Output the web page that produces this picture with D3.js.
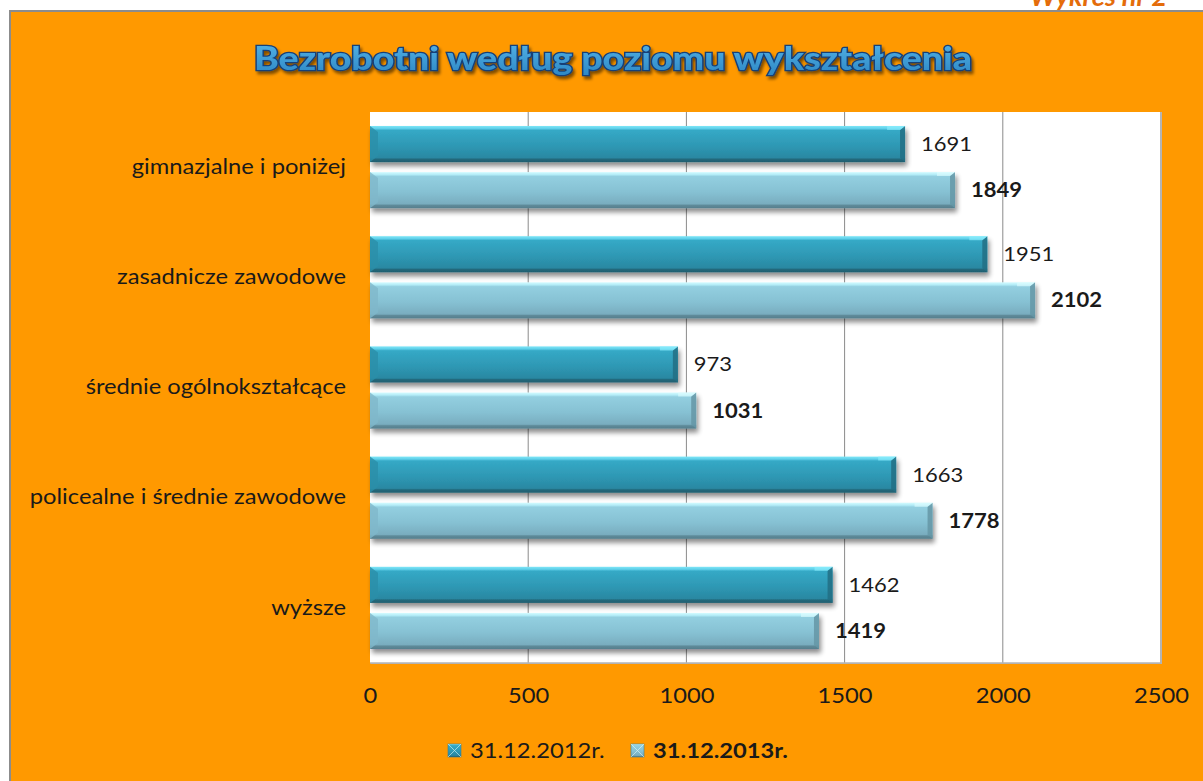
<!DOCTYPE html>
<html>
<head>
<meta charset="utf-8">
<script src="https://cdn.jsdelivr.net/npm/d3@7/dist/d3.min.js"></script>
<style>
  html, body { margin: 0; padding: 0; background: #fff; }
  svg { display: block; }
  text { font-family: Lato, "Open Sans", sans-serif; }
</style>
</head>
<body>
<div id="chart"></div>
<script>
const width = 1203;
const height = 781;

// data
const categories = ["gimnazjalne i poniżej", "zasadnicze zawodowe", "średnie ogólnokształcące", "policealne i średnie zawodowe", "wyższe"];
const series = ["31.12.2012r.", "31.12.2013r."];
const values2012 = [1691, 1951, 973, 1663, 1462];
const values2013 = [1849, 2102, 1031, 1778, 1419];
const xTicks = [0, 500, 1000, 1500, 2000, 2500];

const plot = {left: 370, right: 1161, top: 112, bottom: 663};
const stretch = 1.13; // the original text is drawn a bit wider

const svg = d3.select("#chart")
  .append("svg")
  .attr("width", width)
  .attr("height", height);

const defs = svg.append("defs");

// bar gradients (bevelled look)
function barGradient(id, stops) {
  const g = defs.append("linearGradient")
    .attr("id", id)
    .attr("x1", 0).attr("y1", 0).attr("x2", 0).attr("y2", 1);
  stops.forEach(s => g.append("stop").attr("offset", s[0]).attr("stop-color", s[1]));
}
barGradient("g2012", [[0, "#7ee6f7"], [0.07, "#5fd0ea"], [0.12, "#35a9c6"], [0.55, "#2e98b4"], [0.88, "#2a88a2"], [0.92, "#22687b"], [1, "#1f5f70"]]);
barGradient("g2013", [[0, "#d4fbff"], [0.07, "#b3ecf7"], [0.12, "#93cfe0"], [0.55, "#86c1d3"], [0.88, "#79adbf"], [0.92, "#5e8a99"], [1, "#567f8d"]]);

const shadow = defs.append("filter").attr("id", "shadow")
  .attr("x", "-5%").attr("y", "-20%").attr("width", "115%").attr("height", "160%");
shadow.append("feGaussianBlur").attr("in", "SourceAlpha").attr("stdDeviation", 2.5);
shadow.append("feOffset").attr("dx", 2).attr("dy", 4).attr("result", "off");
shadow.append("feComponentTransfer").append("feFuncA").attr("type", "linear").attr("slope", 0.45);
const merge = shadow.append("feMerge");
merge.append("feMergeNode");
merge.append("feMergeNode").attr("in", "SourceGraphic");

const titleShadow = defs.append("filter").attr("id", "tshadow")
  .attr("x", "-5%").attr("y", "-20%").attr("width", "110%").attr("height", "160%");
titleShadow.append("feGaussianBlur").attr("in", "SourceAlpha").attr("stdDeviation", 1.5);
titleShadow.append("feOffset").attr("dx", 2).attr("dy", 3);
titleShadow.append("feComponentTransfer").append("feFuncA").attr("type", "linear").attr("slope", 0.5);
const tm = titleShadow.append("feMerge");
tm.append("feMergeNode");
tm.append("feMergeNode").attr("in", "SourceGraphic");

const titleGrad = defs.append("linearGradient")
  .attr("id", "tgrad").attr("x1", 0).attr("y1", 0).attr("x2", 0).attr("y2", 1);
titleGrad.append("stop").attr("offset", 0).attr("stop-color", "#59b8ea");
titleGrad.append("stop").attr("offset", 1).attr("stop-color", "#2b86c4");

// page header, partly above the page edge as in the original
svg.append("text")
  .attr("x", 1030).attr("y", 6)
  .attr("fill", "#e46c0a")
  .attr("font-size", 27)
  .attr("font-weight", "bold")
  .attr("font-style", "italic")
  .text("Wykres nr 2");

// orange chart area with grey frame
svg.append("rect")
  .attr("x", 10).attr("y", 11)
  .attr("width", width).attr("height", height)
  .attr("fill", "#ff9900")
  .attr("stroke", "#8c8c8c")
  .attr("stroke-width", 2);

// title
svg.append("text")
  .attr("x", 613).attr("y", 70)
  .attr("text-anchor", "middle")
  .attr("font-size", 33)
  .attr("font-weight", 900)
  .attr("fill", "url(#tgrad)")
  .attr("stroke", "#163f78")
  .attr("stroke-width", 2.6)
  .attr("paint-order", "stroke")
  .attr("textLength", 718)
  .attr("lengthAdjust", "spacingAndGlyphs")
  .attr("filter", "url(#tshadow)")
  .text("Bezrobotni według poziomu wykształcenia");

// scales
const x = d3.scaleLinear().domain([0, 2500]).range([plot.left, plot.right]);
const y = d3.scaleBand().domain(categories).range([plot.top, plot.bottom])
  .paddingInner(0.254).paddingOuter(0.127);
const ySub = d3.scaleBand().domain(series).range([0, y.bandwidth()]).paddingInner(0.217);

// plot area
svg.append("rect")
  .attr("x", plot.left + 1).attr("y", plot.top + 1)
  .attr("width", plot.right - plot.left).attr("height", plot.bottom - plot.top)
  .attr("fill", "#b0b0b0");
svg.append("rect")
  .attr("x", plot.left).attr("y", plot.top)
  .attr("width", plot.right - plot.left).attr("height", plot.bottom - plot.top)
  .attr("fill", "#ffffff");

// gridlines
svg.append("g")
  .selectAll("line")
  .data(xTicks.slice(1))
  .join("line")
  .attr("x1", d => x(d)).attr("x2", d => x(d))
  .attr("y1", plot.top).attr("y2", plot.bottom)
  .attr("stroke", d => d === 2500 ? "#b4b4b4" : "#8a8a8a")
  .attr("stroke-width", d => d === 2500 ? 2 : 1);
svg.append("line")
  .attr("x1", plot.left).attr("x2", plot.right + 1)
  .attr("y1", plot.bottom).attr("y2", plot.bottom)
  .attr("stroke", "#b4b4b4").attr("stroke-width", 1.5);

// x axis labels
const xAxis = d3.axisBottom(x).tickValues(xTicks).tickFormat(d3.format("d")).tickSize(0).tickPadding(0);
const gx = svg.append("g")
  .attr("transform", `translate(0,${plot.bottom + 25})`)
  .call(xAxis);
gx.select(".domain").remove();
gx.selectAll("text")
  .attr("font-family", "Lato, sans-serif")
  .attr("font-size", 21)
  .attr("fill", "#1a1a1a")
  .attr("transform", `scale(${stretch},1)`);

// category labels
const yAxis = d3.axisLeft(y).tickSize(0).tickPadding(0);
const gy = svg.append("g")
  .attr("transform", `translate(${plot.left - 24},0)`)
  .call(yAxis);
gy.select(".domain").remove();
gy.selectAll("text")
  .attr("font-family", "Lato, sans-serif")
  .attr("font-size", 21)
  .attr("fill", "#1a1a1a")
  .attr("transform", `scale(${stretch},1)`);

// bars
const rows = categories.map((c, i) => ({category: c, vals: [
  {series: series[0], value: values2012[i]},
  {series: series[1], value: values2013[i]}
]}));

const groups = svg.append("g")
  .selectAll("g")
  .data(rows)
  .join("g")
  .attr("transform", d => `translate(0,${y(d.category)})`);

const bar = groups.selectAll("g")
  .data(d => d.vals)
  .join("g")
  .attr("transform", d => `translate(0,${ySub(d.series)})`);

const bh = ySub.bandwidth();

bar.append("rect")
  .attr("x", x(0))
  .attr("y", 0)
  .attr("width", d => x(d.value) - x(0))
  .attr("height", bh)
  .attr("fill", d => d.series === series[0] ? "url(#g2012)" : "url(#g2013)")
  .attr("filter", "url(#shadow)");

// right end bevel
bar.append("path")
  .attr("d", d => {
    const xe = x(d.value);
    return `M${xe - 5},${4} L${xe},0 L${xe},${bh} L${xe - 5},${bh - 4} Z`;
  })
  .attr("fill", d => d.series === series[0] ? "#226f84" : "#6596a6")
  .attr("opacity", 0.85);
bar.append("path")
  .attr("d", d => {
    const xe = x(d.value);
    return `M${xe - 18},0 L${xe},0 L${xe - 5},4 L${xe - 18},4 Z`;
  })
  .attr("fill", d => d.series === series[0] ? "#8ef0ff" : "#e0fdff")
  .attr("opacity", 0.6);

// left end bevel
bar.append("path")
  .attr("d", `M${x(0)},0 L${x(0) + 8},${6} L${x(0) + 8},${bh - 6} L${x(0)},${bh} Z`)
  .attr("fill", d => d.series === series[0] ? "#2a8fa9" : "#7fb8ca")
  .attr("opacity", 0.8);

// value labels
bar.append("text")
  .attr("transform", d => `translate(${x(d.value) + 16},${bh / 2 + 7}) scale(1.1,1)`)
  .attr("font-size", 20)
  .attr("font-weight", d => d.series === series[1] ? "bold" : "normal")
  .attr("fill", "#1a1a1a")
  .text(d => d.value);

// legend
const legendItems = [
  {label: series[0], x: 448, grad: "url(#g2012)", bold: false},
  {label: series[1], x: 631, grad: "url(#g2013)", bold: true}
];
const lg = svg.append("g")
  .selectAll("g")
  .data(legendItems)
  .join("g")
  .attr("transform", d => `translate(${d.x},744)`);
lg.append("rect")
  .attr("width", 13).attr("height", 13)
  .attr("fill", d => d.grad)
  .attr("stroke", "#3c7f92").attr("stroke-width", 0.6);
lg.append("path")
  .attr("d", "M0,0 L6.5,6.5 L13,0 M0,13 L6.5,6.5 L13,13")
  .attr("stroke", "#e8ffff").attr("stroke-width", 0.8).attr("fill", "none").attr("opacity", 0.7);
lg.append("text")
  .attr("transform", "translate(22,14) scale(1.13,1)")
  .attr("font-size", 21)
  .attr("font-weight", d => d.bold ? "bold" : "normal")
  .attr("fill", "#1a1a1a")
  .text(d => d.label);
</script>
</body>
</html>
